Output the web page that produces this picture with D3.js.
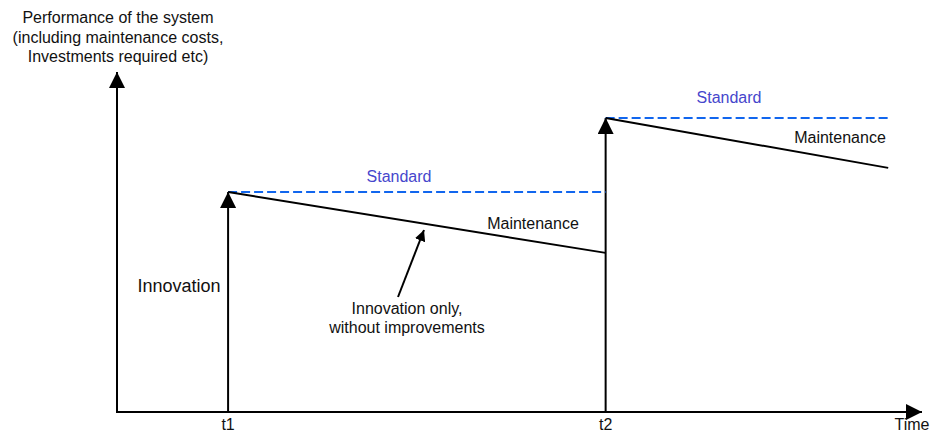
<!DOCTYPE html>
<html><head><meta charset="utf-8">
<script src="https://cdn.jsdelivr.net/npm/d3@7"></script>
<style>body{margin:0;background:#fff}svg{display:block;font-family:"Liberation Sans",Arial,sans-serif}</style>
</head><body>
<svg id="c" width="935" height="439"></svg>
<script>
// Time positions (arbitrary units 0-100) and performance levels (0-100)
const timeTicks = ["t1", "t2"];
const timeValues = [13.8, 60.7];
const innovationLevel = [64.7, 86.5];          // performance right after innovation
const maintenanceEnd = [46.8, 71.8];           // performance at end of each period
const periodEnd = [60.7, 95.8];
const standardEnd = [60.7, 96.0];
const yAxisLabel = ["Performance of the system", "(including maintenance costs,", "Investments required etc)"];

const svg = d3.select("#c");
const x = d3.scaleLinear().domain([0, 100]).range([117, 922]);
const y = d3.scaleLinear().domain([0, 100]).range([412, 72]);

const defs = svg.append("defs");
defs.append("marker").attr("id", "ah").attr("viewBox", "0 0 16 16").attr("refX", 16).attr("refY", 8)
  .attr("markerWidth", 16).attr("markerHeight", 16).attr("markerUnits", "userSpaceOnUse").attr("orient", "auto")
  .append("path").attr("d", "M0,0 L16,8 L0,16 Z").attr("fill", "#000");
defs.append("marker").attr("id", "ahs").attr("viewBox", "0 0 12 12").attr("refX", 12).attr("refY", 6)
  .attr("markerWidth", 11).attr("markerHeight", 11).attr("markerUnits", "userSpaceOnUse").attr("orient", "auto")
  .append("path").attr("d", "M0,0 L12,6 L0,12 Z").attr("fill", "#000");

// axes
svg.append("line").attr("x1", x(0)).attr("y1", y(0)).attr("x2", x(0)).attr("y2", y(100))
  .attr("stroke", "#000").attr("stroke-width", 2).attr("marker-end", "url(#ah)");
svg.append("line").attr("x1", x(0) - 1).attr("y1", y(0)).attr("x2", x(100)).attr("y2", y(0))
  .attr("stroke", "#000").attr("stroke-width", 2).attr("marker-end", "url(#ah)");

// y label
svg.append("text").attr("x", 118).attr("y", 23).attr("text-anchor", "middle").attr("font-size", 16).attr("fill", "#111")
  .selectAll("tspan").data(yAxisLabel).join("tspan").attr("x", 118).attr("dy", (d, i) => i ? 19.5 : 0).text(d => d);

// tick labels
svg.selectAll(".tl").data(timeTicks).join("text").attr("class", "tl")
  .attr("x", (d, i) => x(timeValues[i])).attr("y", 430).attr("text-anchor", "middle")
  .attr("font-size", 16).attr("fill", "#111").text(d => d);
svg.append("text").attr("x", 912).attr("y", 430).attr("text-anchor", "middle").attr("font-size", 16).attr("fill", "#111").text("Time");

// innovation arrows
svg.selectAll(".inn").data(timeValues).join("line").attr("class", "inn")
  .attr("x1", d => x(d)).attr("y1", y(0)).attr("x2", d => x(d)).attr("y2", (d, i) => y(innovationLevel[i]))
  .attr("stroke", "#000").attr("stroke-width", 2).attr("marker-end", "url(#ah)");

// standard dashed lines
svg.selectAll(".std").data(timeValues).join("line").attr("class", "std")
  .attr("x1", d => x(d)).attr("x2", (d, i) => x(standardEnd[i]))
  .attr("y1", (d, i) => y(innovationLevel[i])).attr("y2", (d, i) => y(innovationLevel[i]))
  .attr("stroke", "#1166ee").attr("stroke-width", 2).attr("stroke-dasharray", "9,4");

// maintenance decline lines
svg.selectAll(".mnt").data(timeValues).join("line").attr("class", "mnt")
  .attr("x1", d => x(d)).attr("x2", (d, i) => x(periodEnd[i]))
  .attr("y1", (d, i) => y(innovationLevel[i])).attr("y2", (d, i) => y(maintenanceEnd[i]))
  .attr("stroke", "#000").attr("stroke-width", 2);

// labels
const stdLabelX = [399, 729], stdLabelY = [182, 103];
svg.selectAll(".stdl").data(stdLabelX).join("text").attr("class", "stdl")
  .attr("x", d => d).attr("y", (d, i) => stdLabelY[i]).attr("text-anchor", "middle")
  .attr("font-size", 16).attr("fill", "#4646cc").text("Standard");
const mLabelX = [533, 840], mLabelY = [229, 143];
svg.selectAll(".ml").data(mLabelX).join("text").attr("class", "ml")
  .attr("x", d => d).attr("y", (d, i) => mLabelY[i]).attr("text-anchor", "middle")
  .attr("font-size", 16).attr("fill", "#111").text("Maintenance");

svg.append("text").attr("x", 179).attr("y", 292).attr("text-anchor", "middle").attr("font-size", 18).attr("fill", "#111").text("Innovation");

svg.append("line").attr("x1", 398).attr("y1", 297).attr("x2", 424).attr("y2", 230)
  .attr("stroke", "#000").attr("stroke-width", 2).attr("marker-end", "url(#ahs)");
svg.append("text").attr("x", 407).attr("y", 314).attr("text-anchor", "middle").attr("font-size", 16).attr("fill", "#111")
  .selectAll("tspan").data(["Innovation only,", "without improvements"]).join("tspan")
  .attr("x", 407).attr("dy", (d, i) => i ? 19 : 0).text(d => d);
</script>
</body></html>
